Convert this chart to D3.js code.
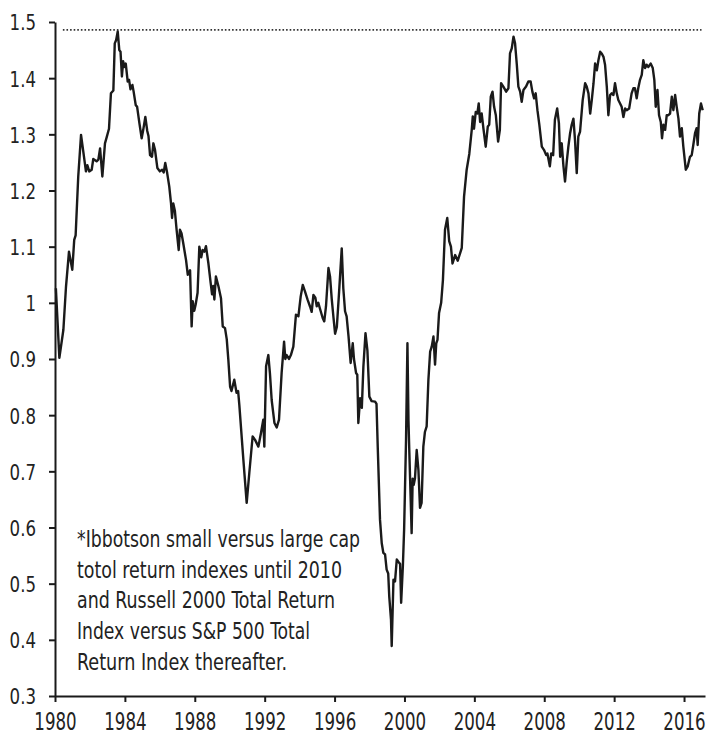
<!DOCTYPE html>
<html>
<head>
<meta charset="utf-8">
<script src="https://cdn.jsdelivr.net/npm/d3@7"></script>
<style>
  html, body { margin: 0; padding: 0; background: #fff; }
  svg { display: block; }
  .lbl { font-family: "DejaVu Sans Condensed", "DejaVu Sans", sans-serif; fill: #222; }
</style>
</head>
<body>
<svg id="chart" width="709" height="740"></svg>
<script>
// ---- data ----
const years = [
1980.05,1980.25,1980.48,1980.63,1980.8,1980.99,1981.1,1981.18,1981.33,1981.49,1981.66,1981.77,1981.85,1981.96,
1982.1,1982.19,1982.38,1982.48,1982.58,1982.71,1982.86,1982.96,1983.09,1983.2,1983.34,1983.42,1983.5,1983.59,
1983.68,1983.75,1983.83,1983.9,1983.98,1984.05,1984.16,1984.24,1984.32,1984.43,1984.5,1984.62,1984.7,1984.83,
1984.96,1985.05,1985.17,1985.28,1985.35,1985.44,1985.55,1985.63,1985.72,1985.86,1986.0,1986.13,1986.22,1986.31,
1986.42,1986.54,1986.64,1986.7,1986.77,1986.86,1986.96,1987.08,1987.15,1987.24,1987.34,1987.5,1987.6,1987.73,
1987.82,1987.88,1987.97,1988.05,1988.16,1988.26,1988.37,1988.45,1988.55,1988.64,1988.78,1988.91,1988.99,1989.06,
1989.12,1989.21,1989.35,1989.5,1989.6,1989.73,1989.83,1989.92,1990.02,1990.1,1990.26,1990.39,1990.48,1990.55,
1990.78,1990.97,1991.12,1991.31,1991.45,1991.64,1991.78,1991.92,1991.98,1992.08,1992.21,1992.3,1992.4,1992.56,
1992.69,1992.82,1992.97,1993.11,1993.18,1993.26,1993.39,1993.5,1993.64,1993.79,1993.93,1994.06,1994.18,1994.31,
1994.45,1994.6,1994.69,1994.79,1994.9,1994.98,1995.07,1995.17,1995.32,1995.41,1995.51,1995.65,1995.74,1995.84,
1995.94,1996.03,1996.13,1996.26,1996.41,1996.5,1996.6,1996.69,1996.8,1996.92,1997.04,1997.11,1997.23,1997.3,
1997.36,1997.46,1997.56,1997.65,1997.77,1997.88,1997.99,1998.12,1998.32,1998.4,1998.47,1998.6,1998.7,1998.79,
1998.89,1998.98,1999.07,1999.13,1999.23,1999.27,1999.37,1999.46,1999.56,1999.65,1999.75,1999.81,1999.91,1999.98,
2000.09,2000.17,2000.23,2000.28,2000.35,2000.41,2000.47,2000.53,2000.6,2000.7,2000.8,2000.89,2000.98,2001.08,
2001.17,2001.27,2001.37,2001.47,2001.56,2001.66,2001.75,2001.82,2001.89,2001.98,2002.1,2002.2,2002.32,2002.45,
2002.56,2002.66,2002.75,2002.9,2003.05,2003.2,2003.28,2003.41,2003.56,2003.71,2003.85,2003.91,2003.98,2004.08,
2004.17,2004.25,2004.33,2004.42,2004.52,2004.65,2004.77,2004.85,2004.94,2005.04,2005.13,2005.23,2005.36,2005.46,
2005.53,2005.66,2005.82,2005.95,2006.04,2006.14,2006.24,2006.33,2006.43,2006.52,2006.62,2006.71,2006.81,2006.96,
2007.09,2007.22,2007.32,2007.42,2007.51,2007.61,2007.72,2007.86,2007.99,2008.11,2008.18,2008.32,2008.4,2008.51,
2008.61,2008.74,2008.84,2008.91,2009.0,2009.1,2009.19,2009.29,2009.38,2009.48,2009.57,2009.67,2009.76,2009.86,
2009.95,2010.05,2010.2,2010.34,2010.43,2010.53,2010.63,2010.72,2010.82,2010.91,2011.01,2011.1,2011.2,2011.29,
2011.39,2011.48,2011.58,2011.67,2011.77,2011.86,2011.96,2012.05,2012.15,2012.24,2012.34,2012.43,2012.53,2012.63,
2012.72,2012.86,2013.0,2013.1,2013.19,2013.29,2013.38,2013.48,2013.58,2013.67,2013.77,2013.86,2013.96,2014.09,
2014.21,2014.3,2014.38,2014.48,2014.57,2014.67,2014.74,2014.82,2014.92,2015.01,2015.1,2015.2,2015.3,2015.39,
2015.49,2015.58,2015.68,2015.77,2015.87,2015.96,2016.1,2016.21,2016.34,2016.44,2016.53,2016.63,2016.72,2016.78,
2016.87,2016.97,2017.07
];
const ratio = [
1.026,0.902,0.952,1.029,1.091,1.059,1.112,1.12,1.225,1.299,1.26,1.234,1.245,1.234,
1.237,1.256,1.252,1.255,1.275,1.225,1.284,1.295,1.31,1.373,1.378,1.462,1.468,1.483,
1.45,1.447,1.403,1.43,1.42,1.426,1.394,1.397,1.38,1.388,1.376,1.352,1.349,1.32,
1.293,1.308,1.331,1.306,1.297,1.263,1.26,1.284,1.273,1.24,1.234,1.237,1.232,1.249,
1.231,1.207,1.177,1.151,1.177,1.164,1.13,1.094,1.13,1.124,1.106,1.076,1.05,1.058,
0.958,1.003,0.986,0.997,1.018,1.1,1.081,1.094,1.091,1.101,1.07,1.035,1.015,1.03,
1.006,1.047,1.03,1.008,0.958,0.955,0.935,0.899,0.851,0.843,0.863,0.84,0.843,0.818,
0.721,0.644,0.697,0.762,0.756,0.744,0.767,0.792,0.744,0.887,0.907,0.875,0.827,0.786,
0.778,0.792,0.875,0.931,0.9,0.907,0.9,0.907,0.922,0.979,0.976,1.011,1.032,1.02,
1.006,0.993,0.984,1.014,1.009,0.994,1.0,0.989,0.973,0.967,0.994,1.062,1.047,1.006,
0.973,0.945,0.957,1.02,1.097,1.026,0.985,0.976,0.94,0.893,0.928,0.9,0.875,0.872,
0.786,0.83,0.813,0.887,0.946,0.915,0.833,0.825,0.824,0.82,0.744,0.614,0.572,0.555,
0.552,0.525,0.518,0.477,0.436,0.389,0.507,0.504,0.543,0.539,0.535,0.466,0.532,0.596,
0.756,0.928,0.79,0.733,0.657,0.59,0.687,0.676,0.687,0.738,0.702,0.635,0.644,0.744,
0.77,0.78,0.863,0.913,0.922,0.94,0.89,0.928,0.934,0.982,1.0,1.04,1.13,1.151,
1.11,1.1,1.07,1.085,1.075,1.09,1.098,1.189,1.237,1.265,1.308,1.332,1.31,1.34,
1.337,1.355,1.322,1.337,1.31,1.278,1.314,1.317,1.367,1.376,1.349,1.334,1.287,1.308,
1.391,1.385,1.376,1.382,1.444,1.453,1.474,1.462,1.424,1.385,1.376,1.358,1.379,1.385,
1.394,1.394,1.376,1.364,1.373,1.343,1.317,1.278,1.272,1.263,1.266,1.243,1.266,1.263,
1.326,1.346,1.32,1.26,1.284,1.243,1.216,1.252,1.278,1.302,1.317,1.328,1.29,1.231,
1.296,1.305,1.361,1.391,1.385,1.373,1.337,1.361,1.391,1.426,1.414,1.432,1.447,1.444,
1.438,1.424,1.385,1.334,1.37,1.373,1.37,1.391,1.373,1.361,1.355,1.349,1.331,1.346,
1.343,1.346,1.373,1.382,1.382,1.364,1.382,1.397,1.406,1.432,1.418,1.424,1.42,1.426,
1.418,1.397,1.349,1.379,1.334,1.322,1.293,1.317,1.308,1.334,1.334,1.337,1.367,1.343,
1.37,1.349,1.328,1.296,1.311,1.278,1.237,1.243,1.26,1.263,1.281,1.302,1.311,1.281,
1.337,1.355,1.343
];
const yTicks = [0.3,0.4,0.5,0.6,0.7,0.8,0.9,1.0,1.1,1.2,1.3,1.4,1.5];
const xTicks = [1980,1984,1988,1992,1996,2000,2004,2008,2012,2016];
const peakLevel = 1.486;
const noteLines = [
  "*Ibbotson small versus large cap",
  "totol return indexes until 2010",
  "and Russell 2000 Total Return",
  "Index versus S&P 500 Total",
  "Return Index thereafter."
];
const noteWidths = [283, 265, 258, 233, 210];

// ---- drawing ----
const svg = d3.select("#chart");
const x = d3.scaleLinear().domain([1980, 2017.2]).range([55, 705]);
const y = d3.scaleLinear().domain([0.3, 1.5]).range([696, 22]);

const data = years.map((yr, i) => ({ t: yr, v: ratio[i] }));

// dotted peak line
svg.append("line")
  .attr("x1", x(1980.45)).attr("x2", x(2017.0))
  .attr("y1", y(peakLevel)).attr("y2", y(peakLevel))
  .attr("stroke", "#333").attr("stroke-width", 1.6)
  .attr("stroke-dasharray", "1.6,2");

// line
svg.append("path")
  .datum(data)
  .attr("fill", "none")
  .attr("stroke", "#1a1a1a")
  .attr("stroke-width", 2.4)
  .attr("stroke-linejoin", "round")
  .attr("d", d3.line().x(d => x(d.t)).y(d => y(d.v)));

// y axis
const yK = 0.84;
const yAxis = svg.append("g").attr("transform", "translate(55,0)")
  .call(d3.axisLeft(y).tickValues(yTicks).tickSizeInner(6).tickSizeOuter(0).tickPadding(13)
    .tickFormat(d => String(+d.toFixed(1))));
yAxis.select(".domain").attr("stroke", "#1a1a1a").attr("stroke-width", 2);
yAxis.selectAll(".tick line").attr("stroke", "#1a1a1a").attr("stroke-width", 2);
yAxis.selectAll(".tick text").attr("class", "lbl").attr("font-size", 22).attr("fill", "#222")
  .attr("dy", "0.36em")
  .attr("x", -19 / yK)
  .attr("transform", `scale(${yK},1)`);

// x axis
const xK = 0.74;
const xAxis = svg.append("g").attr("transform", "translate(0,696)")
  .call(d3.axisBottom(x).tickValues(xTicks).tickSizeInner(6).tickSizeOuter(0).tickPadding(10)
    .tickFormat(d3.format("d")));
xAxis.select(".domain").attr("stroke", "#1a1a1a").attr("stroke-width", 2);
xAxis.selectAll(".tick line").attr("stroke", "#1a1a1a").attr("stroke-width", 2);
xAxis.selectAll(".tick text").attr("class", "lbl").attr("font-size", 25).attr("fill", "#222")
  .attr("transform", `scale(${xK},1)`);

// note
const note = svg.append("g");
noteLines.forEach((s, i) => {
  note.append("text")
    .attr("class", "lbl")
    .attr("x", 77)
    .attr("y", 547 + i * 30.7)
    .attr("font-size", 23)
    .attr("textLength", noteWidths[i])
    .attr("lengthAdjust", "spacingAndGlyphs")
    .text(s);
});
</script>
</body>
</html>
